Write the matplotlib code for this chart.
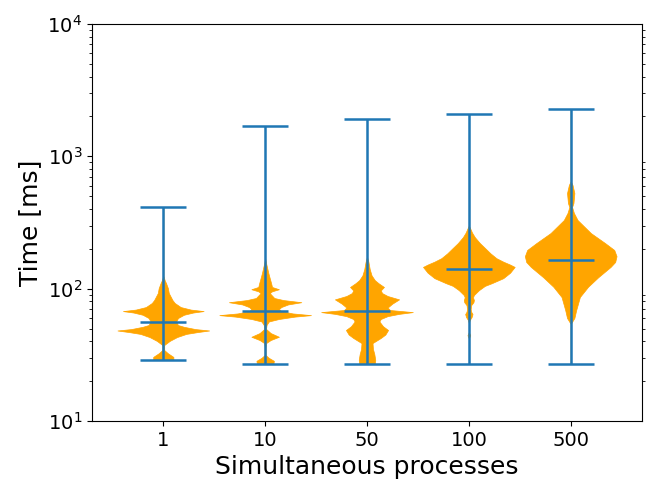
import matplotlib
matplotlib.use('Agg')
import matplotlib.pyplot as plt
import numpy as np

labels = ['1', '10', '50', '100', '500']

# extrema and means (ms)
t_min = [28.9, 27.0, 27.0, 27.0, 27.0]
t_max = [414, 1695, 1914, 2090, 2282]
t_mean = [56.0, 67.7, 67.7, 141, 164]

# violin outlines: time (ms) and relative half-width
v1_t = [28.9, 30.5, 32.5, 34.4, 37.5, 40.3, 43.1, 45.5, 47.0, 48.3, 49.5, 51.5, 53.1,
        56.5, 60.0, 63.5, 66.0, 67.7, 69.5, 72.6, 77.9, 82, 92.6, 101, 110, 116, 126, 414]
v1_w = [0.22, 0.22, 0.10, 0.02, 0.02, 0.14, 0.30, 0.50, 0.75, 1.0, 0.70, 0.45, 0.32,
        0.28, 0.32, 0.45, 0.65, 0.88, 0.60, 0.38, 0.25, 0.20, 0.12, 0.10, 0.06, 0.03, 0.0, 0.0]

v2_t = [27.0, 28.5, 30.0, 31.5, 36.0, 38.8, 40.9, 43.3, 46.2, 49.6, 53.1, 56.5, 59.0,
        61.5, 63.1, 65.0, 67.7, 70.0, 72.6, 76.0, 79.0, 82, 85, 92.6, 95.5, 99, 103,
        110, 120, 131, 156, 170, 1695]
v2_w = [0.18, 0.19, 0.08, 0.01, 0.01, 0.02, 0.12, 0.30, 0.12, 0.02, 0.03, 0.08, 0.30,
        0.65, 1.0, 0.60, 0.35, 0.30, 0.35, 0.50, 0.79, 0.40, 0.20, 0.10, 0.15, 0.30, 0.15,
        0.13, 0.10, 0.07, 0.02, 0.0, 0.0]

v3_t = [27.0, 29.0, 32.0, 35.0, 38.8, 42.4, 45.0, 48.7, 52.0, 56.5, 59.0, 62.0, 64.5,
        66.5, 69.0, 72.0, 77.0, 83.0, 88.0, 92.6, 97.0, 103, 110, 116, 126, 140, 160, 175, 1914]
v3_w = [0.17, 0.18, 0.16, 0.13, 0.12, 0.30, 0.40, 0.46, 0.35, 0.27, 0.30, 0.45, 0.70,
        1.0, 0.50, 0.45, 0.55, 0.70, 0.45, 0.33, 0.30, 0.37, 0.25, 0.17, 0.10, 0.06, 0.03, 0.0, 0.0]

v4_t = [27.0, 42.0, 44.5, 47.0, 55.0, 58.0, 61.0, 64.3, 67.0, 70.0, 75.0, 79.0, 82.0,
        86.0, 89.5, 97.5, 105, 110, 120, 132, 146, 152, 160, 170, 185, 200, 221, 245,
        265, 285, 300, 2090]
v4_w = [0.0, 0.0, 0.03, 0.0, 0.0, 0.02, 0.06, 0.08, 0.05, 0.04, 0.05, 0.10, 0.11,
        0.09, 0.11, 0.22, 0.35, 0.50, 0.75, 0.90, 1.0, 0.90, 0.75, 0.60, 0.47, 0.37, 0.24, 0.13,
        0.07, 0.03, 0.0, 0.0]

v5_t = [27.0, 54.0, 57.0, 60.0, 69.0, 86.5, 103.5, 122, 146, 159, 176, 196, 221, 263,
        330, 373, 414, 444, 528, 607, 650, 2282]
v5_w = [0.0, 0.0, 0.04, 0.08, 0.12, 0.20, 0.38, 0.60, 0.87, 0.97, 1.0, 0.95, 0.75, 0.44,
        0.15, 0.07, 0.03, 0.06, 0.08, 0.04, 0.0, 0.0]

outlines = [(v1_t, v1_w), (v2_t, v2_w), (v3_t, v3_w), (v4_t, v4_w), (v5_t, v5_w)]

vpstats = []
for i, (t, w) in enumerate(outlines):
    vpstats.append({'coords': np.array(t, dtype=float), 'vals': np.array(w, dtype=float),
                    'mean': t_mean[i], 'median': t_mean[i],
                    'min': t_min[i], 'max': t_max[i]})

fig = plt.figure(figsize=(6.64, 4.98), dpi=100)
ax = fig.add_axes([92 / 664, 77 / 498, 550 / 664, 397 / 498])

pos = np.arange(1, len(labels) + 1)
parts = ax.violin(vpstats, positions=pos, widths=0.9, showmeans=True,
                  showextrema=True, showmedians=False)
for b in parts['bodies']:
    b.set_facecolor('orange')
    b.set_edgecolor('orange')
    b.set_linewidth(0.5)
    b.set_alpha(1)
for k in ['cmeans', 'cmins', 'cmaxes', 'cbars']:
    parts[k].set_color('C0')
    parts[k].set_linewidth(1.8)

ax.set_yscale('log')
ax.set_ylim(10, 1e4)
ax.set_xlim(0.3, 5.7)
ax.set_xticks(pos)
ax.set_xticklabels(labels)
ax.tick_params(axis='both', which='major', labelsize=14)
# only the minor ticks show on the right spine
ax.tick_params(axis='y', which='minor', right=True)
ax.set_xlabel('Simultaneous processes', fontsize=18)
ax.set_ylabel('Time [ms]', fontsize=18)

fig.savefig('out.png', dpi=100)
